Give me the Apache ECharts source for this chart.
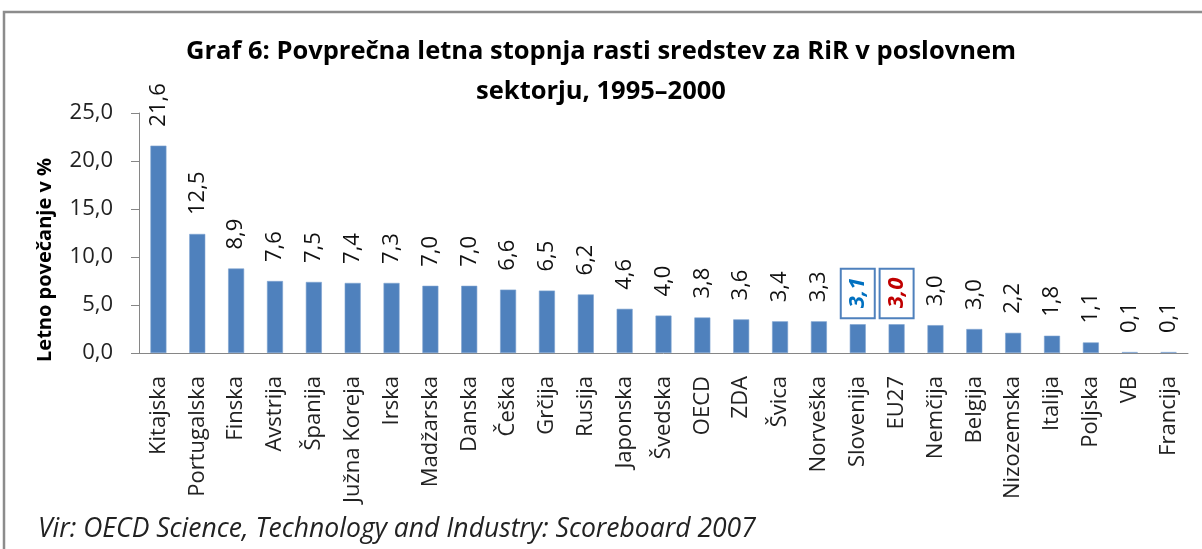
<!DOCTYPE html>
<html lang="sl">
<head>
    <meta charset="UTF-8">
    <title>Graf 6</title>
    <script src="https://cdn.jsdelivr.net/npm/echarts@6/dist/echarts.min.js"></script>
</head>
<style type="text/css">
    html,body,#chart{
        width: 100%;
        height: 100%;
        margin: 0;
        padding: 0;
        background: #fff;
    }
</style>
<body>
<div id="chart"></div>
<script>
    // države / skupine
    var countries = ['Kitajska','Portugalska','Finska','Avstrija','Španija','Južna Koreja','Irska','Madžarska',
        'Danska','Češka','Grčija','Rusija','Japonska','Švedska','OECD','ZDA','Švica','Norveška','Slovenija',
        'EU27','Nemčija','Belgija','Nizozemska','Italija','Poljska','VB','Francija'];
    // višine stolpcev (odčitano iz slike)
    var growth = [21.6,12.4,8.8,7.5,7.4,7.3,7.3,7.0,7.0,6.6,6.5,6.1,4.6,3.9,3.7,3.5,3.3,3.3,3.0,3.0,2.9,2.5,2.1,1.8,1.1,0.1,0.1];
    // napisi nad stolpci
    var labelText = ['21,6','12,5','8,9','7,6','7,5','7,4','7,3','7,0','7,0','6,6','6,5','6,2','4,6','4,0',
        '3,8','3,6','3,4','3,3','3,1','3,0','3,0','3,0','2,2','1,8','1,1','0,1','0,1'];
    var yTicks = [0, 5, 10, 15, 20, 25];

    var font = '"Open Sans", "Noto Sans", sans-serif';

    var seriesData = [];
    for (var i = 0; i < growth.length; i++) {
        var item = {value: growth[i]};
        if (countries[i] == 'Slovenija' || countries[i] == 'EU27') {
            item.label = {
                color: countries[i] == 'Slovenija' ? '#0070C0' : '#C00000',
                fontWeight: 'bold',
                fontStyle: 'italic',
                borderColor: '#4F81BD',
                borderWidth: 2,
                padding: [6, 9, 6, 10],
                distance: 6
            };
        }
        seriesData.push(item);
    }

    var myChart = echarts.init(document.getElementById('chart'));
    var options = {
        animation: false,
        title: {
            text: 'Graf 6: Povprečna letna stopnja rasti sredstev za RiR v poslovnem\nsektorju, 1995–2000',
            left: 'center',
            top: 27,
            textStyle: {
                fontFamily: font,
                fontSize: 25.5,
                fontWeight: 'bold',
                color: '#000',
                lineHeight: 40
            }
        },
        graphic: [{
            type: 'rect',
            shape: {x: 4, y: 12, width: 1230, height: 600},
            style: {fill: 'none', stroke: '#8c8c8c', lineWidth: 2.5},
            silent: true
        }, {
            type: 'text',
            left: 38,
            top: 516,
            style: {
                text: 'Vir: OECD Science, Technology and Industry: Scoreboard 2007',
                fontFamily: font,
                fontStyle: 'italic',
                fontSize: 26.5,
                fill: '#222'
            }
        }],
        grid: {
            left: 139,
            right: 14,
            top: 113,
            height: 240
        },
        xAxis: {
            type: 'category',
            data: countries,
            axisLine: {lineStyle: {color: '#868686'}},
            axisTick: {length: 8, lineStyle: {color: '#868686'}},
            axisLabel: {
                rotate: 90,
                interval: 0,
                margin: 23,
                fontFamily: font,
                fontSize: 22,
                color: '#222'
            }
        },
        yAxis: {
            type: 'value',
            min: 0,
            max: yTicks[yTicks.length - 1],
            interval: yTicks[1] - yTicks[0],
            name: 'Letno povečanje v %',
            nameLocation: 'middle',
            nameGap: 84,
            nameTextStyle: {
                fontFamily: font,
                fontSize: 20,
                fontWeight: 'bold',
                color: '#000',
                padding: [0, 0, 0, -54]
            },
            splitLine: {show: false},
            axisLine: {show: true, lineStyle: {color: '#868686'}},
            axisTick: {show: true, length: 8, lineStyle: {color: '#868686'}},
            axisLabel: {
                margin: 26,
                fontFamily: font,
                fontSize: 22,
                color: '#222',
                formatter: function (v) {
                    return v.toFixed(1).replace('.', ',');
                }
            }
        },
        series: [{
            type: 'bar',
            barWidth: 16,
            itemStyle: {color: '#4F81BD', borderColor: '#7EA3D0', borderWidth: 0.6},
            label: {
                show: true,
                position: 'top',
                rotate: 90,
                align: 'left',
                verticalAlign: 'middle',
                distance: 19,
                fontFamily: font,
                fontSize: 22,
                color: '#111',
                formatter: function (p) {
                    return labelText[p.dataIndex];
                }
            },
            data: seriesData
        }]
    };
    myChart.setOption(options);
</script>
</body>
</html>
